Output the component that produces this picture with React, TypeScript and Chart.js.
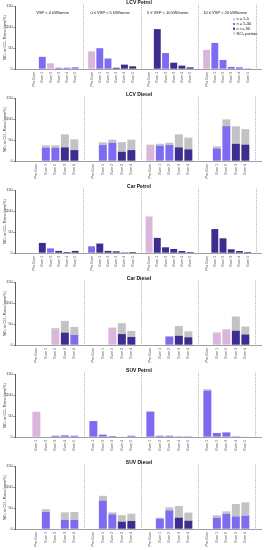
import React, { useEffect, useRef } from "react";
import { Chart, registerables } from "chart.js";

Chart.register(...registerables);

// ---------- data ----------
const VSP_BINS = ["VSP < 0 kW/tonne", "0 ≤ VSP < 5 kW/tonne", "5 ≤ VSP < 10 kW/tonne", "10 ≤ VSP < 20 kW/tonne"];
const SERIES_LABELS = ["n = 2-5", "n = 5-30", "n >= 30", "NO₂ portion"];
const Y_TICKS = [0, 50, 100, 150];
const Y_TITLE = "NO₂ to CO₂ Ratio (ppm/%)";

const CATS_PRE_E5 = ["Pre-Euro", "Euro 1", "Euro 2", "Euro 3", "Euro 4", "Euro 5"];
const CATS_PRE_E4 = ["Pre-Euro", "Euro 1", "Euro 2", "Euro 3", "Euro 4"];
const CATS_E1_E5 = ["Euro 1", "Euro 2", "Euro 3", "Euro 4", "Euro 5"];

// class codes: 0 = n 2-5, 1 = n 5-30, 2 = n >= 30
const LCV_PETROL_VALUES = [
  [null, 29, 13.6, 3, 3, 4],
  [42, 49.5, 25, 3, 10.4, 6.4],
  [null, 95, 38, 15, 8, 4],
  [45.5, 62, 21.5, 5, 4, 1.5],
];
const LCV_PETROL_CLASS = [
  [null, 1, 0, 1, 1, 1],
  [0, 1, 1, 2, 2, 2],
  [null, 2, 1, 2, 2, 2],
  [0, 1, 1, 1, 1, 1],
];
const LCV_PETROL_NO2 = [[], [], [], []];

const LCV_DIESEL_VALUES = [
  [null, 31.7, 31.7, 32.5, 26],
  [null, 38, 43, 22, 26],
  [35.7, 36.5, 38, 32.5, 27.8],
  [null, 30, 83, 41, 39],
];
const LCV_DIESEL_CLASS = [
  [null, 1, 1, 2, 2],
  [null, 1, 1, 2, 2],
  [0, 1, 1, 2, 2],
  [null, 1, 1, 2, 2],
];
const LCV_DIESEL_NO2 = [
  [null, 5.6, 5.6, 31, 25.6],
  [null, 6.4, 7.8, 23, 24.8],
  [3.2, 4.5, 5.6, 31, 27.8],
  [null, 5, 16, 41.5, 37],
];

const CAR_PETROL_VALUES = [
  [null, 24, 11, 5, 2.4, 5],
  [16, 22.5, 5, 4, 1.6, 2.4],
  [87, 36, 13.6, 9.6, 4.8, 2.4],
  [null, 57, 35, 8.8, 4.8, 2.4],
];
const CAR_PETROL_CLASS = [
  [null, 2, 1, 2, 2, 2],
  [1, 2, 2, 2, 2, 2],
  [0, 2, 2, 2, 2, 2],
  [null, 2, 2, 2, 2, 2],
];
const CAR_PETROL_NO2 = [[], [], [], []];

const CAR_DIESEL_VALUES = [
  [null, null, 36, 29.5, 24],
  [null, null, 38, 26, 19],
  [null, null, 20, 22, 18.4],
  [null, 28, 36, 34, 25],
];
const CAR_DIESEL_CLASS = [
  [null, null, 0, 2, 1],
  [null, null, 0, 2, 2],
  [null, null, 1, 2, 2],
  [null, 0, 0, 2, 2],
];
const CAR_DIESEL_NO2 = [
  [null, null, 4, 28, 19],
  [null, null, 3.5, 26, 14.5],
  [null, null, 1.5, 23.5, 14.3],
  [null, 2, 1.5, 34, 19],
];

const SUV_PETROL_VALUES = [
  [60, null, 3, 4, 3],
  [38, 5.6, 2.4, 0.8, 3],
  [60, 3, 3, 1.6, 1.6],
  [110, 9.6, 11, 1.6, 1],
];
const SUV_PETROL_CLASS = [
  [0, null, 1, 1, 1],
  [1, 1, 1, 1, 1],
  [1, 1, 1, 1, 1],
  [1, 1, 1, 1, 1],
];
const SUV_PETROL_NO2 = [[], [], [1.5], [4]];

const SUV_DIESEL_VALUES = [
  [null, 40.5, null, 21.4, 21.4],
  [null, 68, 35, 17.5, 19],
  [null, 24.6, 44.4, 27, 19.8],
  [null, 27, 35.7, 30, 31.7],
];
const SUV_DIESEL_CLASS = [
  [null, 1, null, 1, 1],
  [null, 1, 1, 2, 2],
  [null, 1, 1, 2, 2],
  [null, 1, 1, 1, 1],
];
const SUV_DIESEL_NO2 = [
  [null, 6.5, null, 18.3, 19.1],
  [null, 11, 4.7, 15.5, 17.5],
  [null, 2.4, 7.2, 27.8, 19.2],
  [null, 5.5, 6.3, 29.5, 31.8],
];

const PANELS = [
  { title: "LCV Petrol", cats: CATS_PRE_E5, values: LCV_PETROL_VALUES, cls: LCV_PETROL_CLASS, no2: LCV_PETROL_NO2 },
  { title: "LCV Diesel", cats: CATS_PRE_E4, values: LCV_DIESEL_VALUES, cls: LCV_DIESEL_CLASS, no2: LCV_DIESEL_NO2 },
  { title: "Car Petrol", cats: CATS_PRE_E5, values: CAR_PETROL_VALUES, cls: CAR_PETROL_CLASS, no2: CAR_PETROL_NO2 },
  { title: "Car Diesel", cats: CATS_PRE_E4, values: CAR_DIESEL_VALUES, cls: CAR_DIESEL_CLASS, no2: CAR_DIESEL_NO2 },
  { title: "SUV Petrol", cats: CATS_E1_E5, values: SUV_PETROL_VALUES, cls: SUV_PETROL_CLASS, no2: SUV_PETROL_NO2 },
  { title: "SUV Diesel", cats: CATS_PRE_E4, values: SUV_DIESEL_VALUES, cls: SUV_DIESEL_CLASS, no2: SUV_DIESEL_NO2 },
];

// ---------- style ----------
const COLORS = ["#dbb6dc", "#7e6cf0", "#3c2d8e", "#c3c3c3"];
const FONT = "'Liberation Sans', Arial, sans-serif";
const PANEL_H = 92;
const W = 267;

Chart.defaults.font.family = FONT;

function buildDatasets(p: any) {
  const unit = p.cats.length + 1;
  const make = (fn: (g: number, k: number) => number | null) =>
    p.values.flatMap((vals: any[], g: number) =>
      vals.map((_v: any, k: number) => ({ x: g * unit + k + 1, y: fn(g, k) }))
    );
  const ds: any[] = [0, 1, 2].map((c) => ({
    label: SERIES_LABELS[c],
    backgroundColor: COLORS[c],
    data: make((g, k) => (p.cls[g][k] === c ? p.values[g][k] : null)),
  }));
  ds.push({
    label: SERIES_LABELS[3],
    backgroundColor: COLORS[3],
    data: make((g, k) => (p.no2[g] && p.no2[g][k] != null ? p.no2[g][k] : null)),
  });
  return ds;
}

function Panel({ panel, index }: { panel: any; index: number }) {
  const ref = useRef<HTMLCanvasElement>(null);
  useEffect(() => {
    const unit = panel.cats.length + 1;
    const tickVals: number[] = [];
    for (let g = 0; g < 4; g++) for (let k = 0; k < panel.cats.length; k++) tickVals.push(g * unit + k + 1);

    const decor = {
      id: "decor" + index,
      beforeDatasetsDraw(chart: any) {
        const { ctx, chartArea } = chart;
        const x = chart.scales.x;
        ctx.save();
        ctx.strokeStyle = "#8a8a8a";
        ctx.lineWidth = 0.7;
        ctx.setLineDash([1, 1.2]);
        for (let g = 1; g <= 4; g++) {
          const px = Math.round(x.getPixelForValue(g * unit)) + 0.5;
          ctx.beginPath();
          ctx.moveTo(px, chartArea.top - 1);
          ctx.lineTo(px, chartArea.bottom);
          ctx.stroke();
        }
        ctx.restore();
      },
      afterDraw(chart: any) {
        const { ctx, chartArea } = chart;
        const x = chart.scales.x;
        ctx.save();
        ctx.fillStyle = "#111";
        ctx.textBaseline = "middle";
        ctx.textAlign = "center";
        ctx.font = `bold 5px ${FONT}`;
        ctx.fillText(panel.title, (chartArea.left + chartArea.right) / 2 + 1, 3);
        if (index === 0) {
          ctx.font = `4px ${FONT}`;
          VSP_BINS.forEach((t, g) => {
            ctx.fillText(t, x.getPixelForValue(g * unit + unit / 2) - 2, chartArea.top + 7);
          });
          ctx.textAlign = "left";
          SERIES_LABELS.forEach((t, i) => {
            const yy = chartArea.top + 13.3 + i * 4.7;
            const lx = chartArea.right - 28;
            ctx.fillStyle = COLORS[i];
            ctx.fillRect(lx, yy - 1, 2, 2);
            ctx.fillStyle = "#111";
            ctx.fillText(t, lx + 3.5, yy);
          });
        }
        ctx.restore();
      },
    };

    const chart = new Chart(ref.current as HTMLCanvasElement, {
      type: "bar",
      data: { datasets: buildDatasets(panel) },
      options: {
        animation: false,
        responsive: false,
        maintainAspectRatio: false,
        layout: { padding: { top: 6, right: 6, left: 0, bottom: 0 } },
        datasets: { bar: { categoryPercentage: 1, barPercentage: 0.84 } },
        plugins: { legend: { display: false }, tooltip: { enabled: false }, title: { display: false } },
        scales: {
          x: {
            type: "linear",
            stacked: true,
            min: -0.1 * unit,
            max: 4 * unit,
            grid: { display: false, drawTicks: false, tickLength: 0 },
            border: { display: true, color: "#777", dash: [1, 1], width: 0.7 },
            afterBuildTicks: (axis: any) => {
              axis.ticks = tickVals.map((v) => ({ value: v }));
            },
            afterFit: (scale: any) => {
              scale.height = 23;
              scale.paddingLeft = 0;
              scale.paddingRight = 0;
            },
            ticks: {
              autoSkip: false,
              minRotation: 90,
              maxRotation: 90,
              padding: 3,
              color: "#444",
              font: { size: 3.6, family: FONT },
              callback: (v: any) => {
                const k = (Math.round(v) % unit) - 1;
                return panel.cats[k] ?? "";
              },
            },
          },
          y: {
            stacked: true,
            min: 0,
            max: 150,
            grid: { display: true, drawOnChartArea: false, drawTicks: true, tickLength: 1.5, color: "#333", lineWidth: 0.6 },
            border: { display: true, color: "#333", width: 0.8 },
            afterBuildTicks: (axis: any) => {
              axis.ticks = Y_TICKS.map((v) => ({ value: v }));
            },
            afterFit: (scale: any) => {
              scale.width = 15;
              scale.paddingTop = 0;
              scale.paddingBottom = 0;
            },
            ticks: { padding: 0.8, color: "#333", font: { size: 3.8, family: FONT } },
            title: {
              display: true,
              text: Y_TITLE,
              color: "#333",
              font: { size: 3.8, family: FONT },
              padding: { top: 2.5, bottom: 0 },
            },
          },
        },
      },
      plugins: [decor],
    } as any);
    return () => chart.destroy();
  }, []);
  return (
    <canvas
      ref={ref}
      width={W}
      height={PANEL_H}
      style={{ position: "absolute", left: 0, top: index * PANEL_H, width: W, height: PANEL_H }}
    />
  );
}

export default function App() {
  return (
    <div style={{ position: "absolute", left: 0, top: 0, width: W, height: 550, overflow: "hidden", background: "#fff" }}>
      {PANELS.map((p, i) => (
        <Panel key={p.title} panel={p} index={i} />
      ))}
    </div>
  );
}
